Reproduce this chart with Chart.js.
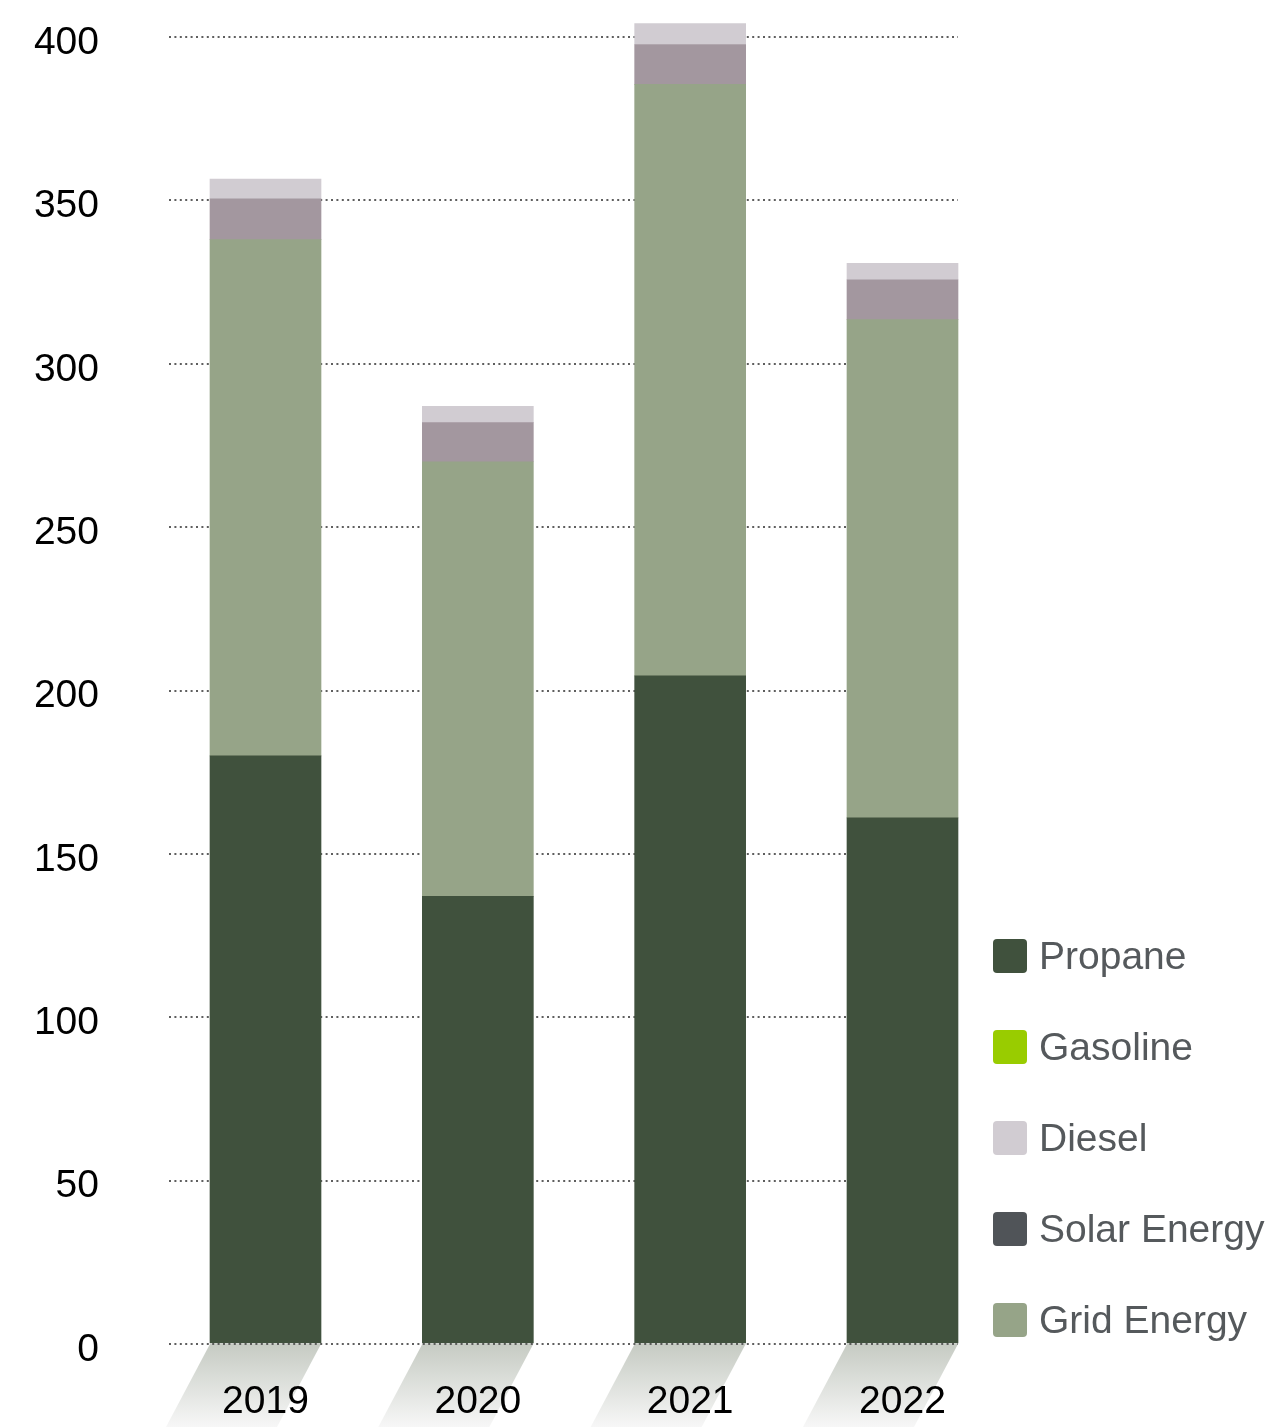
<!DOCTYPE html>
<html>
<head>
<meta charset="utf-8">
<script src="https://cdn.jsdelivr.net/npm/chart.js@4/dist/chart.umd.min.js"></script>
<style>
  html, body { margin: 0; padding: 0; background: #fff; overflow: hidden; }
  canvas { display: block; }
</style>
</head>
<body>
<canvas id="energyChart" width="1266" height="1427"></canvas>
<script>
// energy use per year, stacked
var years = ["2019", "2020", "2021", "2022"];
var propane = [180, 137, 204.5, 161];
var gridEnergy = [158, 133, 181, 152.5];
var other = [12.5, 12, 12.2, 12.2];
var diesel = [6, 5, 6.4, 5];
var gasoline = [0, 0, 0, 0];
var solar = [0, 0, 0, 0];
var yTicks = [0, 50, 100, 150, 200, 250, 300, 350, 400];
var legendNames = ["Propane", "Gasoline", "Diesel", "Solar Energy", "Grid Energy"];

var FONT = "'Liberation Sans', Arial, Helvetica, sans-serif";

function pts(arr) {
  return arr.map(function (v, i) { return { x: i, y: v }; });
}

function ds(label, arr, color) {
  return {
    label: label,
    data: pts(arr),
    backgroundColor: color,
    borderWidth: 0,
    barThickness: 111,
    inflateAmount: arr.some(function (v) { return v > 0; }) ? "auto" : 0,
    clip: false
  };
}

// slanted fading shadow under each bar
var barShadow = {
  id: "barShadow",
  beforeDraw: function (chart) {
    var ctx = chart.ctx;
    var meta = chart.getDatasetMeta(0);
    var top = chart.chartArea.bottom;
    var bottom = chart.height;
    var shift = 44;
    ctx.save();
    meta.data.forEach(function (bar) {
      var half = bar.width / 2;
      var g = ctx.createLinearGradient(0, top, 0, bottom);
      g.addColorStop(0, "#c6cbc3");
      g.addColorStop(1, "#f7f7f7");
      ctx.fillStyle = g;
      ctx.beginPath();
      ctx.moveTo(bar.x - half, top);
      ctx.lineTo(bar.x + half, top);
      ctx.lineTo(bar.x + half - shift, bottom);
      ctx.lineTo(bar.x - half - shift, bottom);
      ctx.closePath();
      ctx.fill();
    });
    ctx.restore();
  }
};

// legend drawn on the right, bottom aligned
var sideLegend = {
  id: "sideLegend",
  afterDraw: function (chart) {
    var ctx = chart.ctx;
    var x = 993, y0 = 939, step = 91, box = 34;
    ctx.save();
    ctx.font = "39px " + FONT;
    ctx.textBaseline = "middle";
    legendNames.forEach(function (name, i) {
      var d = chart.data.datasets.find(function (s) { return s.label === name; });
      var y = y0 + i * step;
      ctx.fillStyle = d.backgroundColor;
      ctx.beginPath();
      ctx.roundRect(x, y, box, box, 4);
      ctx.fill();
      ctx.fillStyle = "#55595c";
      ctx.fillText(name, x + box + 12, y + box / 2 + 2);
    });
    ctx.restore();
  }
};

new Chart("energyChart", {
  type: "bar",
  data: {
    datasets: [
      ds("Propane", propane, "#40513d"),
      ds("Grid Energy", gridEnergy, "#96a488"),
      ds("Other", other, "#a3979f"),
      ds("Diesel", diesel, "#d1ccd2"),
      ds("Gasoline", gasoline, "#99cc00"),
      ds("Solar Energy", solar, "#505458")
    ]
  },
  options: {
    responsive: false,
    animation: false,
    events: [],
    layout: { padding: { left: 0, right: 308, top: 37, bottom: 0 } },
    plugins: {
      legend: { display: false },
      tooltip: { enabled: false }
    },
    scales: {
      x: {
        type: "linear",
        stacked: true,
        offset: false,
        min: -0.4545,
        max: 3.2614,
        afterBuildTicks: function (s) {
          s.ticks = years.map(function (_, i) { return { value: i }; });
        },
        afterFit: function (s) {
          s.height = 83;
          s.paddingLeft = 0;
          s.paddingRight = 0;
        },
        ticks: {
          callback: function (v) { return years[v]; },
          color: "#000",
          font: { family: FONT, size: 39 },
          padding: 35,
          maxRotation: 0,
          autoSkip: false
        },
        grid: { display: false, drawTicks: false },
        border: { display: false }
      },
      y: {
        stacked: true,
        min: 0,
        max: 400,
        afterBuildTicks: function (s) {
          s.ticks = yTicks.map(function (v) { return { value: v }; });
        },
        afterFit: function (s) {
          s.width = 169;
          s.paddingTop = 0;
          s.paddingBottom = 0;
        },
        ticks: {
          color: "#000",
          font: { family: FONT, size: 39 },
          padding: 70,
          labelOffset: 6
        },
        grid: {
          color: "#5e5e5e",
          lineWidth: 2,
          drawTicks: false
        },
        border: { display: false, dash: [2, 3.4] }
      }
    }
  },
  plugins: [barShadow, sideLegend]
});
</script>
</body>
</html>
